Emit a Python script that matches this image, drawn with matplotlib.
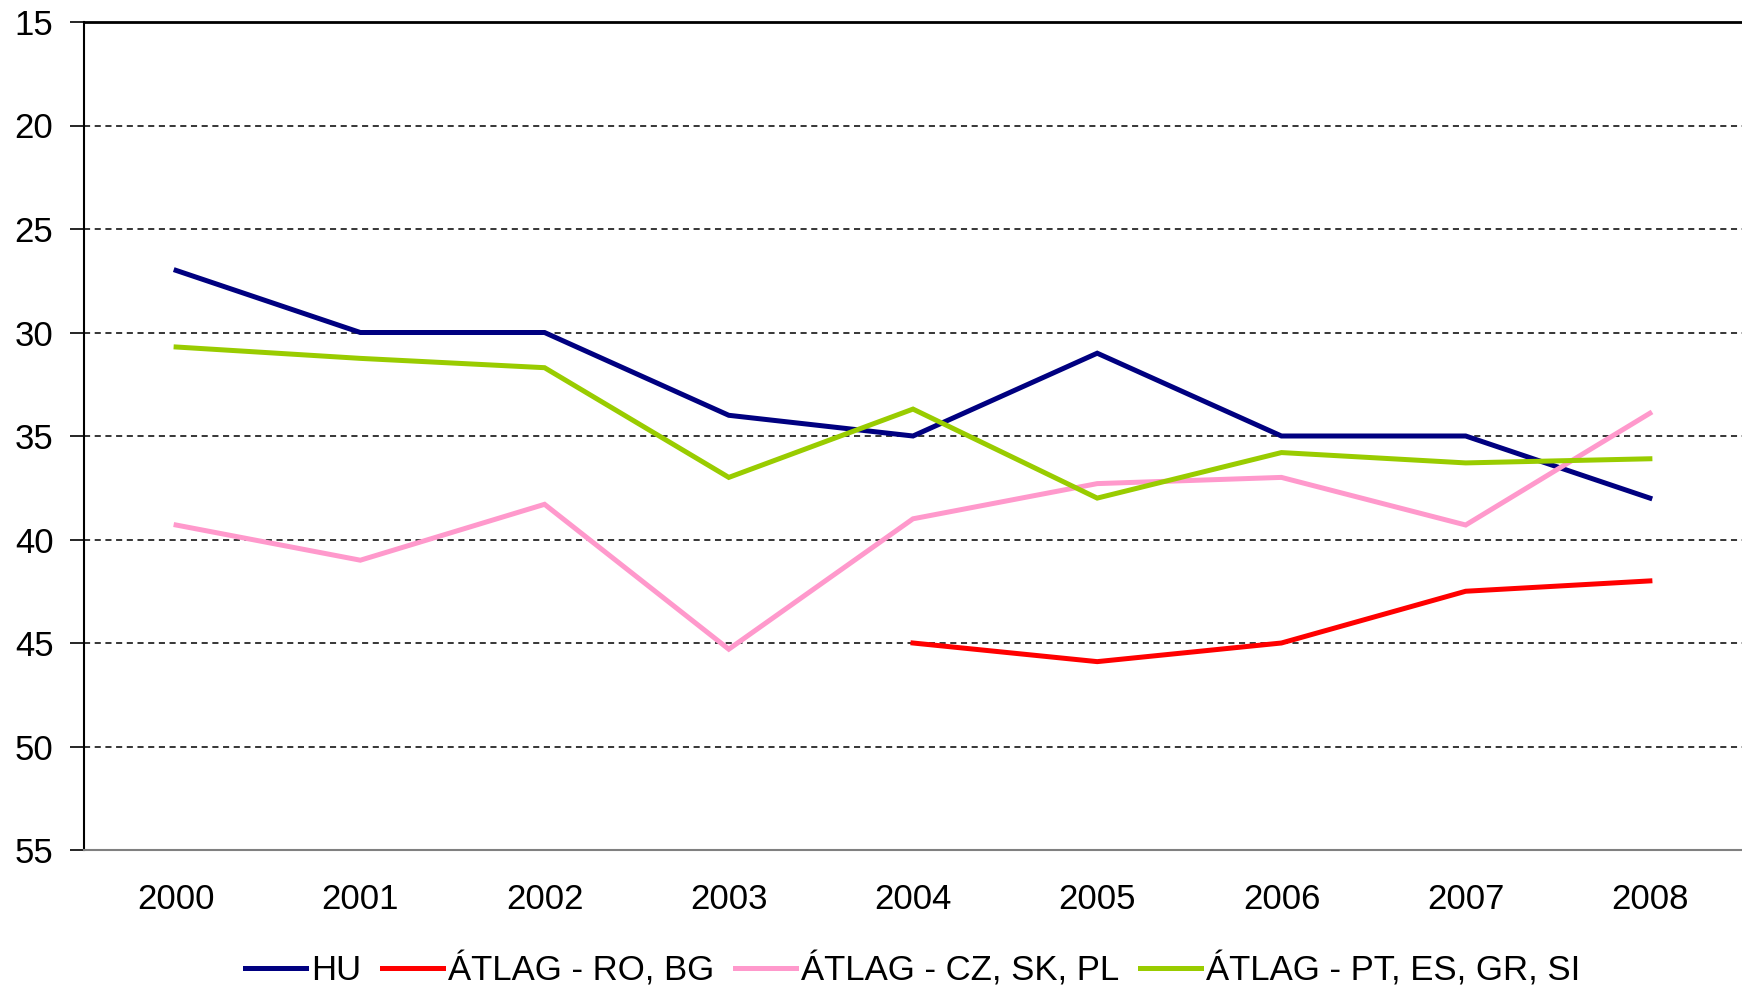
import matplotlib
matplotlib.use("Agg")
import matplotlib.pyplot as plt

years = ["2000", "2001", "2002", "2003", "2004", "2005", "2006", "2007", "2008"]
hu = [27, 30, 30, 34, 35, 31, 35, 35, 38]
ro_bg = [None, None, None, None, 45, 45.9, 45, 42.5, 42]
cz_sk_pl = [39.3, 41.0, 38.3, 45.3, 39.0, 37.3, 37.0, 39.3, 33.9]
pt_es_gr_si = [30.7, 31.25, 31.7, 37.0, 33.7, 38.0, 35.8, 36.3, 36.1]

labels = ["HU", "ÁTLAG - RO, BG", "ÁTLAG - CZ, SK, PL", "ÁTLAG - PT, ES, GR, SI"]
colors = ["#000080", "#FF0000", "#FF99CC", "#99CC00"]
yticks = [15, 20, 25, 30, 35, 40, 45, 50, 55]

plt.rcParams['font.family'] = ['Liberation Sans', 'DejaVu Sans']

fig = plt.figure(figsize=(17.42, 9.89), dpi=100)
ax = fig.add_axes([84 / 1742, 1 - 850 / 989, (1742 - 84) / 1742, (850 - 22) / 989])

x = list(range(len(years)))
series = [hu, ro_bg, cz_sk_pl, pt_es_gr_si]
for vals, lab, col in zip(series, labels, colors):
    xs = [xi for xi, v in zip(x, vals) if v is not None]
    ys = [v for v in vals if v is not None]
    ax.plot(xs, ys, color=col, lw=3.6, label=lab, solid_joinstyle='miter')

ax.set_xlim(-0.5, len(years) - 0.5)
ax.set_ylim(55, 15)
ax.set_yticks(yticks)
ax.set_yticklabels([str(t) for t in yticks], fontsize=25)
ax.set_xticks(x)
ax.set_xticklabels(years, fontsize=25)
ax.tick_params(axis='x', length=0, pad=24)
ax.tick_params(axis='y', length=10, width=1.2, pad=12, direction='out')

for t in yticks[1:-1]:
    ax.axhline(t, color='black', lw=1.1, ls=(0, (4, 3)), zorder=0)

ax.spines['left'].set_color('black')
ax.spines['left'].set_linewidth(1.5)
ax.spines['top'].set_color('black')
ax.spines['top'].set_linewidth(2.0)
ax.spines['bottom'].set_color('#808080')
ax.spines['bottom'].set_linewidth(1.5)
ax.spines['right'].set_visible(False)

leg = fig.legend(loc='center', bbox_to_anchor=(913 / 1742, 1 - 970 / 989), ncol=4,
                 frameon=False, fontsize=25, handlelength=1.75, handletextpad=0.15,
                 columnspacing=0.6)

fig.savefig("out.png", dpi=100, facecolor='white')
